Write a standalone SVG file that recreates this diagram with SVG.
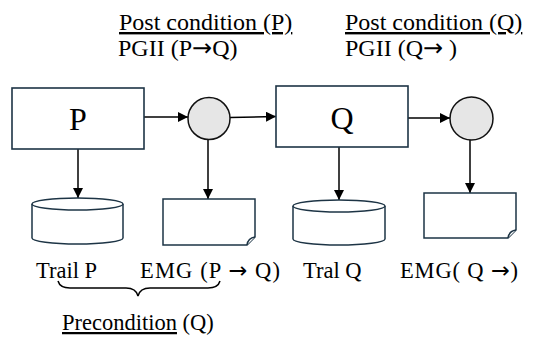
<svg xmlns="http://www.w3.org/2000/svg" width="542" height="360" viewBox="0 0 542 360">
<defs>
<style>
.box{fill:#fff;stroke:#1d3445;stroke-width:1.6}
.circ{fill:#e6e6e6;stroke:#111;stroke-width:1.5}
.cyl{fill:#fff;stroke:#1d3445;stroke-width:1.5}
.doc{fill:#fff;stroke:#1d3445;stroke-width:1.5}
.conn{fill:none;stroke:#000;stroke-width:1.5}
.t{font-family:"Liberation Serif","Times New Roman",serif;fill:#000}
.h{font-size:24px}
.l{font-size:22.5px}
.big{font-size:32px}
.ar{font-family:"DejaVu Sans",sans-serif;font-weight:normal}
</style>
<marker id="ah" viewBox="0 0 10 10" refX="10" refY="5" markerWidth="10" markerHeight="10" markerUnits="userSpaceOnUse" orient="auto">
<path d="M0,0 L10,5 L0,10 Z" fill="#000"/>
</marker>
</defs>
<g id="connectors">
<line class="conn" x1="144" y1="117" x2="188" y2="117" marker-end="url(#ah)"/>
<line class="conn" x1="230" y1="117.5" x2="276" y2="116.5" marker-end="url(#ah)"/>
<line class="conn" x1="408" y1="118" x2="450" y2="118" marker-end="url(#ah)"/>
<line class="conn" x1="78" y1="149" x2="78" y2="198" marker-end="url(#ah)"/>
<line class="conn" x1="208" y1="140" x2="208" y2="199" marker-end="url(#ah)"/>
<line class="conn" x1="339" y1="147" x2="339" y2="200" marker-end="url(#ah)"/>
<line class="conn" x1="470" y1="140" x2="470" y2="193" marker-end="url(#ah)"/>
</g>
<g id="nodeP">
<rect class="box" x="12" y="88" width="132" height="61"/>
<text class="t big" x="78" y="130" text-anchor="middle">P</text>
</g>
<g id="circle1">
<circle class="circ" cx="209" cy="118.5" r="21"/>
</g>
<g id="nodeQ">
<rect class="box" x="276" y="86" width="132" height="61"/>
<text class="t big" x="342" y="129" text-anchor="middle">Q</text>
</g>
<g id="circle2">
<circle class="circ" cx="471.5" cy="118.5" r="21.5"/>
</g>
<g id="trailP">
<path class="cyl" d="M32,204 A45.5,6 0 0 1 123,204 V238 A45.5,6 0 0 1 32,238 Z"/>
<path class="cyl" fill="none" d="M32,204 A45.5,6 0 0 0 123,204"/>
</g>
<g id="emgPQ">
<path class="doc" d="M163,199 H255 V237 L247,245 H163 Z"/>
<path class="doc" d="M247,245 Q248,238 255,237"/>
</g>
<g id="tralQ">
<path class="cyl" d="M293,206 A46,6 0 0 1 385,206 V239 A46,6 0 0 1 293,239 Z"/>
<path class="cyl" fill="none" d="M293,206 A46,6 0 0 0 385,206"/>
</g>
<g id="emgQ">
<path class="doc" d="M424,193 H516 V230 L508,238 H424 Z"/>
<path class="doc" d="M508,238 Q509,231 516,230"/>
</g>
<g id="labels">
<text class="t h" x="119" y="30" text-decoration="underline">Post condition (P)</text>
<text class="t h" x="118" y="56">PGII (P<tspan class="ar">→</tspan>Q)</text>
<text class="t h" x="345" y="30" text-decoration="underline">Post condition (Q)</text>
<text class="t h" x="345" y="56">PGII (Q<tspan class="ar">→</tspan> )</text>
<text class="t l" x="36" y="278">Trail P</text>
<text class="t l" x="140" y="278" textLength="140" lengthAdjust="spacing">EMG (P <tspan class="ar">→</tspan> Q)</text>
<text class="t l" x="303" y="278">Tral Q</text>
<text class="t l" x="400" y="278" textLength="118" lengthAdjust="spacing">EMG( Q <tspan class="ar">→</tspan>)</text>
<text class="t l" x="62" y="330"><tspan text-decoration="underline">Precondition</tspan> (Q)</text>
</g>
<g id="brace">
<path class="conn" stroke-width="1.4" d="M58,281 Q60,288 70,288 L126,288 Q136,288 138,296 Q140,288 150,288 L208,288 Q218,288 220,281"/>
</g>
</svg>
